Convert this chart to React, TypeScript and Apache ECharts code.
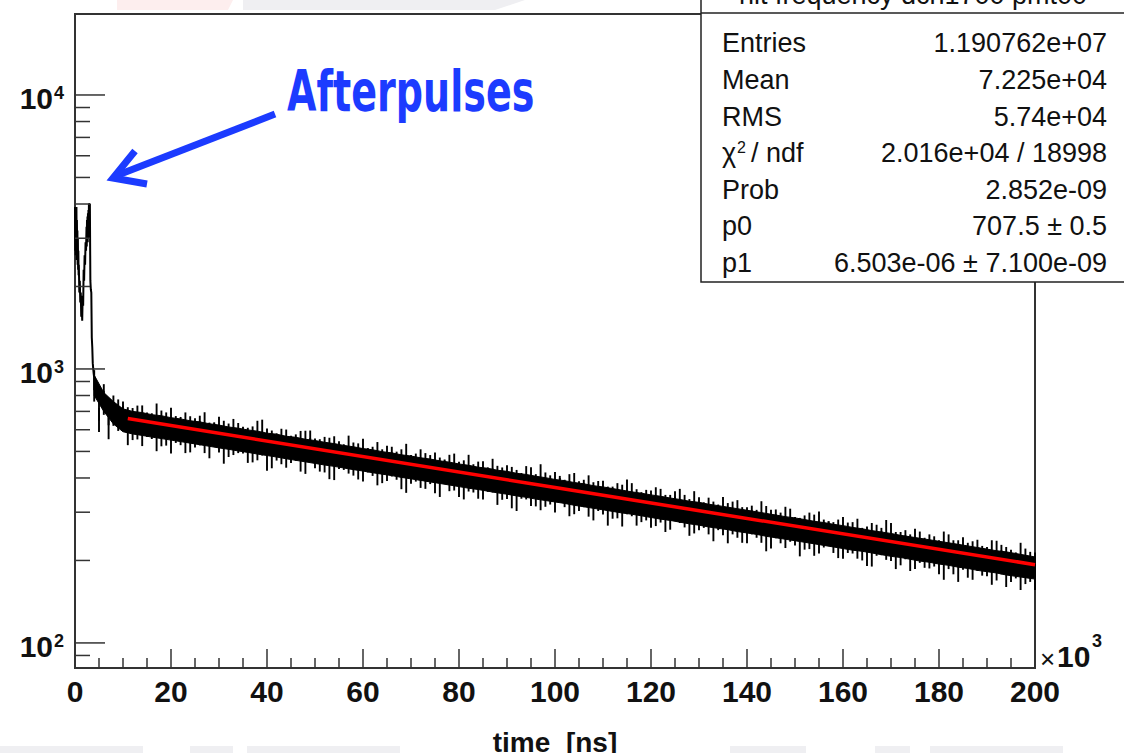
import React, { useEffect, useRef } from "react";
import * as echarts from "echarts";

const FONT = "Liberation Sans";

// x in units of 10^3 ns
const xMin = 0;
const xMax = 200;
const xInterval = 20;
const yMin = 81;
const yMax = 19750;
const yMajorTicks = [100, 1000, 10000];
const yMinorTicks = [90, 200, 300, 400, 500, 600, 700, 800, 900, 2000, 3000, 4000, 5000, 6000, 7000, 8000, 9000];

// afterpulse region histogram (time in 10^3 ns, counts)
const apX = [0.0, 0.05, 0.1, 0.15, 0.2, 0.25, 0.3, 0.35, 0.4, 0.45, 0.5, 0.55, 0.6, 0.65, 0.7, 0.75, 0.8, 0.9, 1.0, 1.1, 1.2, 1.3, 1.4, 1.5, 1.6, 1.7, 1.8, 1.9, 2.0, 2.1, 2.2, 2.3, 2.4, 2.45, 2.5, 2.55, 2.6, 2.65, 2.7, 2.75, 2.8, 2.85, 2.9, 3.0, 3.1, 3.2, 3.3, 3.4, 3.5, 3.6, 3.7, 3.8, 3.9, 4.0];
const apY = [3900, 2700, 3800, 2600, 3700, 2800, 3900, 2500, 3500, 2600, 3200, 2400, 3000, 2300, 2700, 2200, 2400, 1900, 2100, 1750, 1900, 1550, 1750, 1500, 1850, 1700, 2300, 2100, 2600, 2400, 2900, 2700, 3300, 2800, 3500, 2900, 3600, 2900, 3700, 3000, 3800, 3100, 4000, 4000, 4000, 2100, 1950, 1900, 1300, 1200, 1050, 1000, 960, 930];

// band of the noisy histogram after the afterpulses: bins every 2 (10^3 ns) from 4 to 200
const bandX = Array.from({ length: 99 }, (_, i) => 4 + 2 * i);
const bandUpper = [950, 820, 760, 715, 700, 693, 681, 675, 664, 657, 647, 641, 631, 624, 614, 608, 599, 593, 583, 578, 568, 563, 554, 548, 540, 534, 526, 520, 512, 507, 499, 494, 486, 481, 474, 469, 462, 457, 450, 445, 438, 434, 427, 423, 416, 412, 406, 401, 395, 391, 385, 381, 375, 371, 366, 361, 356, 352, 347, 343, 338, 334, 329, 326, 321, 317, 313, 309, 305, 301, 297, 293, 289, 286, 282, 278, 275, 271, 268, 264, 261, 257, 254, 251, 247, 244, 241, 238, 235, 232, 229, 226, 223, 220, 217, 215, 212, 209, 206];
const bandLower = [800, 700, 630, 590, 579, 572, 564, 557, 550, 543, 536, 529, 522, 515, 509, 502, 496, 489, 483, 477, 470, 464, 458, 452, 446, 441, 435, 429, 424, 418, 413, 408, 402, 397, 392, 387, 382, 377, 372, 367, 363, 358, 353, 349, 344, 340, 335, 331, 327, 323, 318, 314, 310, 306, 302, 298, 295, 291, 287, 283, 280, 276, 272, 269, 265, 262, 259, 255, 252, 249, 245, 242, 239, 236, 233, 230, 227, 224, 221, 218, 216, 213, 210, 207, 205, 202, 199, 197, 194, 192, 189, 187, 184, 182, 180, 177, 175, 173, 171];

// single-bin fluctuations sticking out of the band, at odd x from 5 to 199
const spikeXOdd = Array.from({ length: 98 }, (_, i) => 5 + 2 * i);
const spikeUpOdd = [767, 737, 774, 725, 735, 693, 748, 694, 673, 694, 661, 695, 633, 647, 657, 615, 617, 653, 596, 605, 570, 594, 596, 554, 561, 545, 571, 535, 514, 541, 524, 499, 533, 491, 493, 495, 463, 491, 464, 449, 460, 470, 437, 439, 417, 438, 449, 409, 407, 413, 389, 409, 390, 372, 383, 395, 364, 362, 370, 347, 358, 347, 358, 326, 328, 341, 328, 313, 317, 329, 306, 299, 309, 286, 299, 302, 278, 282, 275, 284, 266, 270, 281, 254, 258, 261, 242, 245, 255, 237, 243, 235, 226, 237, 228, 219, 232, 215];
const spikeDownOdd = [589, 554, 594, 527, 553, 565, 501, 525, 537, 493, 517, 493, 522, 451, 485, 491, 456, 483, 434, 449, 454, 422, 457, 422, 396, 431, 415, 395, 419, 376, 390, 394, 353, 388, 365, 352, 382, 360, 334, 354, 334, 354, 333, 310, 336, 316, 305, 320, 327, 290, 303, 289, 303, 268, 285, 295, 268, 280, 267, 254, 279, 264, 251, 263, 235, 247, 249, 232, 249, 232, 221, 231, 234, 207, 220, 212, 227, 204, 213, 203, 191, 208, 201, 186, 202, 186, 188, 190, 170, 178, 185, 170, 176, 163, 178, 167, 156, 167];
// and at even x from 4 to 200
const spikeUpEven = [990, 880, 800, 760, 720, 736, 689, 705, 721, 668, 672, 675, 637, 669, 632, 635, 610, 647, 606, 582, 601, 577, 595, 557, 565, 568, 531, 539, 556, 520, 509, 520, 509, 485, 509, 485, 475, 486, 458, 486, 459, 437, 443, 445, 428, 442, 413, 419, 421, 394, 417, 394, 386, 391, 372, 378, 383, 355, 360, 365, 347, 365, 335, 340, 339, 320, 324, 332, 313, 306, 316, 307, 314, 288, 292, 294, 282, 276, 288, 276, 263, 274, 263, 274, 254, 249, 255, 249, 237, 249, 237, 232, 238, 224, 236, 224, 214, 221, 214];
const spikeDownEven = [760, 680, 620, 600, 550, 523, 555, 522, 491, 527, 496, 526, 472, 495, 477, 493, 454, 464, 425, 463, 436, 462, 414, 434, 419, 393, 428, 408, 388, 407, 383, 405, 364, 381, 368, 380, 341, 358, 341, 357, 336, 356, 319, 335, 303, 334, 315, 314, 299, 313, 295, 313, 280, 294, 284, 266, 290, 276, 263, 275, 259, 274, 246, 258, 249, 258, 231, 242, 231, 242, 216, 241, 222, 227, 219, 208, 223, 213, 203, 212, 200, 190, 209, 199, 192, 183, 196, 187, 178, 186, 167, 173, 183, 175, 169, 160, 172, 164, 156];

// exponential fit (red)
const fitX = [11, 100, 200];
const fitY = [659, 369, 193];

const statTitle = "hit frequency dch1700 pmt00";
const statLabels = ["Entries", "Mean", "RMS", "χ2 / ndf", "Prob", "p0", "p1"];
const statValues = ["1.190762e+07", "7.225e+04", "5.74e+04", "2.016e+04 / 18998", "2.852e-09", "707.5 ± 0.5", "6.503e-06 ± 7.100e-09"];

const BLUE = "#1c3bff";

export default function App() {
  const ref = useRef<HTMLDivElement>(null);

  useEffect(() => {
    const chart = echarts.init(ref.current!, null, { renderer: "svg" });

    const FS = 27;
    const rowY = [43, 80, 117, 153, 190, 226, 263];
    const statChildren: any[] = [
      { type: "rect", shape: { x: 701, y: -5, width: 440, height: 287 }, style: { fill: "#fff", stroke: "#222", lineWidth: 1.5 } },
      { type: "line", shape: { x1: 701, y1: 13, x2: 1130, y2: 13 }, style: { stroke: "#222", lineWidth: 1.5 } },
      { type: "text", x: 913, y: 8, style: { text: statTitle, fontSize: FS, fontFamily: FONT, fill: "#111", align: "center", verticalAlign: "bottom" } },
    ];
    statLabels.forEach((lab, i) => {
      if (lab.startsWith("χ2")) {
        statChildren.push({ type: "text", x: 722, y: rowY[i], style: { text: "χ", fontSize: FS, fontFamily: FONT, fill: "#111", align: "left", verticalAlign: "middle" } });
        statChildren.push({ type: "text", x: 737, y: rowY[i] - 14, style: { text: "2", fontSize: 16, fontFamily: FONT, fill: "#111", align: "left", verticalAlign: "top" } });
        statChildren.push({ type: "text", x: 751, y: rowY[i], style: { text: lab.slice(3), fontSize: FS, fontFamily: FONT, fill: "#111", align: "left", verticalAlign: "middle" } });
      } else {
        statChildren.push({ type: "text", x: 722, y: rowY[i], style: { text: lab, fontSize: FS, fontFamily: FONT, fill: "#111", align: "left", verticalAlign: "middle" } });
      }
      statChildren.push({ type: "text", x: 1107, y: rowY[i], style: { text: statValues[i], fontSize: FS, fontFamily: FONT, fill: "#111", align: "right", verticalAlign: "middle" } });
    });

    const spikeUpData = [
      ...spikeXOdd.map((x, i) => [x, spikeUpOdd[i]]),
      ...bandX.map((x, i) => [x, spikeUpEven[i]]),
    ];
    const spikeDownData = [
      ...spikeXOdd.map((x, i) => [x, spikeDownOdd[i]]),
      ...bandX.map((x, i) => [x, spikeDownEven[i]]),
    ];

    const option: any = {
      animation: false,
      backgroundColor: "#fff",
      grid: {
        left: 75, right: 89, top: 14, bottom: 85,
        containLabel: false, outerBoundsMode: "none",
        show: true, borderColor: "#333", borderWidth: 2, backgroundColor: "transparent",
      },
      xAxis: {
        type: "value",
        min: xMin,
        max: xMax,
        interval: xInterval,
        name: "time  [ns]",
        nameLocation: "middle",
        nameGap: 60,
        nameTextStyle: { fontSize: 28, fontWeight: "bold", fontFamily: FONT, color: "#111" },
        axisLine: { show: true, lineStyle: { color: "#333", width: 2 } },
        axisTick: { show: true, inside: true, length: 19, lineStyle: { color: "#333", width: 1.5 } },
        minorTick: { show: true, splitNumber: 4, length: 10, lineStyle: { color: "#333", width: 1.5 } },
        axisLabel: { fontSize: 30, fontWeight: "bold", fontFamily: FONT, color: "#111", margin: 8 },
        splitLine: { show: false },
      },
      yAxis: {
        type: "log",
        min: yMin,
        max: yMax,
        axisLine: { show: true, lineStyle: { color: "#333", width: 2 } },
        axisTick: { show: false },
        axisLabel: { show: false },
        splitLine: { show: false },
        minorTick: { show: false },
      },
      series: [
        {
          type: "custom",
          name: "band",
          coordinateSystem: "cartesian2d",
          data: [[bandX[0], bandUpper[0]]],
          silent: true,
          z: 3,
          renderItem: (params: any, api: any) => {
            const pts: number[][] = [];
            for (let i = 0; i < bandX.length; i++) pts.push(api.coord([bandX[i], bandUpper[i]]));
            for (let i = bandX.length - 1; i >= 0; i--) pts.push(api.coord([bandX[i], bandLower[i]]));
            return { type: "polygon", shape: { points: pts }, style: { fill: "#000", stroke: "#000", lineWidth: 1 } };
          },
        },
        {
          type: "custom",
          name: "spikesUp",
          coordinateSystem: "cartesian2d",
          data: spikeUpData,
          silent: true,
          z: 3,
          renderItem: (params: any, api: any) => {
            const p = api.coord([api.value(0), api.value(1)]);
            return { type: "line", shape: { x1: p[0], y1: p[1], x2: p[0], y2: p[1] + 20 }, style: { stroke: "#000", lineWidth: 1.9 } };
          },
        },
        {
          type: "custom",
          name: "spikesDown",
          coordinateSystem: "cartesian2d",
          data: spikeDownData,
          silent: true,
          z: 3,
          renderItem: (params: any, api: any) => {
            const p = api.coord([api.value(0), api.value(1)]);
            return { type: "line", shape: { x1: p[0], y1: p[1], x2: p[0], y2: p[1] - 24 }, style: { stroke: "#000", lineWidth: 1.9 } };
          },
        },
        {
          type: "line",
          name: "afterpulses",
          data: apX.map((x, i) => [x, apY[i]]),
          step: "end",
          symbol: "none",
          lineStyle: { color: "#000", width: 2 },
          z: 4,
        },
        {
          type: "line",
          name: "fit",
          data: fitX.map((x, i) => [x, fitY[i]]),
          symbol: "none",
          lineStyle: { color: "#ff0000", width: 3.5 },
          z: 6,
        },
        {
          type: "custom",
          name: "yMajorTicks",
          coordinateSystem: "cartesian2d",
          data: yMajorTicks.map((v) => [xMin, v]),
          silent: true,
          clip: false,
          z: 7,
          renderItem: (params: any, api: any) => {
            const p = api.coord([api.value(0), api.value(1)]);
            const exp = Math.round(Math.log10(api.value(1)));
            return {
              type: "group",
              children: [
                { type: "line", shape: { x1: p[0], y1: p[1], x2: p[0] + 30, y2: p[1] }, style: { stroke: "#333", lineWidth: 1.5 } },
                { type: "text", x: p[0] - 22, y: p[1] + 4, style: { text: "10", fontSize: 30, fontWeight: "bold", fontFamily: FONT, fill: "#111", align: "right", verticalAlign: "middle" } },
                { type: "text", x: p[0] - 21, y: p[1] - 11, style: { text: String(exp), fontSize: 18, fontWeight: "bold", fontFamily: FONT, fill: "#111", align: "left", verticalAlign: "top" } },
              ],
            };
          },
        },
        {
          type: "custom",
          name: "yMinorTicks",
          coordinateSystem: "cartesian2d",
          data: yMinorTicks.map((v) => [xMin, v]),
          silent: true,
          z: 7,
          renderItem: (params: any, api: any) => {
            const p = api.coord([api.value(0), api.value(1)]);
            return { type: "line", shape: { x1: p[0], y1: p[1], x2: p[0] + 15, y2: p[1] }, style: { stroke: "#333", lineWidth: 1.5 } };
          },
        },
      ],
      graphic: [
        // faint slide background remnants
        { type: "polygon", shape: { points: [[117, 0], [233, 0], [228, 10], [117, 10]] }, style: { fill: "#fdeeee" }, z: -1, silent: true },
        { type: "polygon", shape: { points: [[243, 0], [525, 0], [495, 10], [243, 10]] }, style: { fill: "#efeff2" }, z: -1, silent: true },
        { type: "rect", shape: { x: 0, y: 746, width: 143, height: 7 }, style: { fill: "#efeff2" }, z: -1, silent: true },
        { type: "rect", shape: { x: 190, y: 746, width: 43, height: 7 }, style: { fill: "#efeff2" }, z: -1, silent: true },
        { type: "rect", shape: { x: 247, y: 746, width: 153, height: 7 }, style: { fill: "#efeff2" }, z: -1, silent: true },
        { type: "rect", shape: { x: 730, y: 746, width: 76, height: 7 }, style: { fill: "#efeff2" }, z: -1, silent: true },
        { type: "rect", shape: { x: 875, y: 746, width: 35, height: 7 }, style: { fill: "#efeff2" }, z: -1, silent: true },
        { type: "rect", shape: { x: 930, y: 746, width: 133, height: 7 }, style: { fill: "#efeff2" }, z: -1, silent: true },
        // x10^3 multiplier
        { type: "text", x: 1040, y: 659, style: { text: "×", fontSize: 26, fontFamily: FONT, fill: "#111", align: "left", verticalAlign: "middle" }, z: 20 },
        { type: "text", x: 1057, y: 656, style: { text: "10", fontSize: 30, fontWeight: "bold", fontFamily: FONT, fill: "#111", align: "left", verticalAlign: "middle" }, z: 20 },
        { type: "text", x: 1092, y: 632, style: { text: "3", fontSize: 18, fontWeight: "bold", fontFamily: FONT, fill: "#111", align: "left", verticalAlign: "top" }, z: 20 },
        // stats box
        { type: "group", z: 50, children: statChildren },
        // annotation
        { type: "text", x: 287, y: 64, scaleX: 0.68, z: 60, style: { text: "Afterpulses", fontSize: 56, fontWeight: "bold", fontFamily: "DejaVu Sans", fill: BLUE, align: "left", verticalAlign: "top" } },
        { type: "line", z: 60, shape: { x1: 275, y1: 114, x2: 118, y2: 175 }, style: { stroke: BLUE, lineWidth: 7 } },
        { type: "polyline", z: 60, shape: { points: [[135, 151], [113, 178], [147, 184]] }, style: { stroke: BLUE, lineWidth: 7, lineJoin: "miter", fill: null } },
      ],
    };

    chart.setOption(option);
    return () => chart.dispose();
  }, []);

  return <div ref={ref} style={{ position: "fixed", left: 0, top: 0, width: 1124, height: 753, background: "#fff" }} />;
}
